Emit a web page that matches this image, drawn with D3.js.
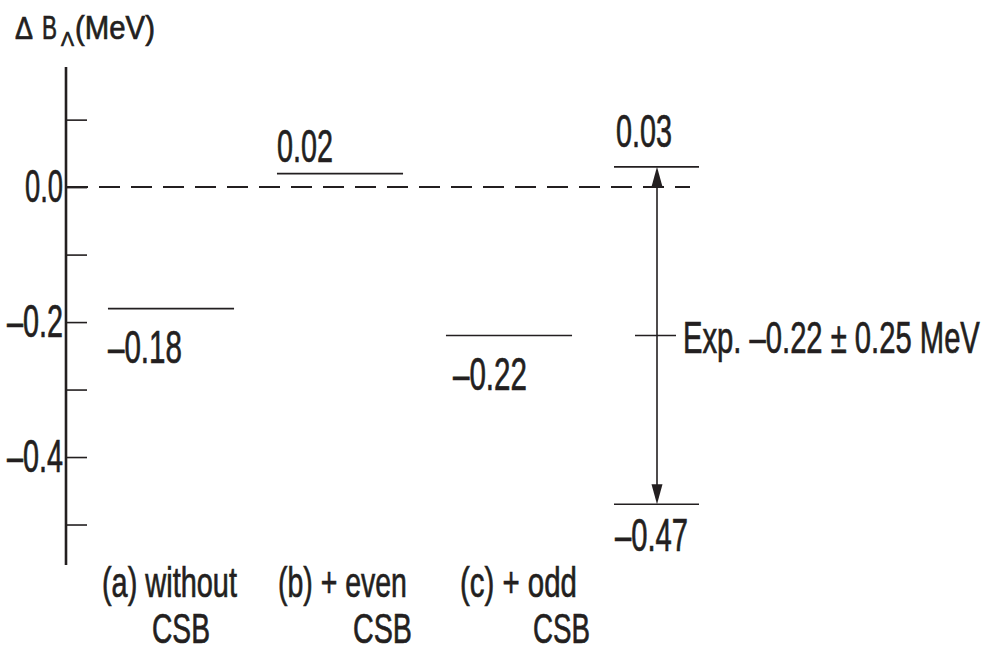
<!DOCTYPE html>
<html><head><meta charset="utf-8">
<script src="https://cdn.jsdelivr.net/npm/d3@7"></script>
<style>
html,body{margin:0;padding:0;background:#fff;}
svg{display:block;}
text{font-family:"Liberation Sans",Arial,Helvetica,sans-serif;fill:#231f20;stroke:#231f20;stroke-width:0.7px;}
</style></head>
<body>
<svg id="chart" width="992" height="668"></svg>
<script>
// ---- data ----
const categoryKeys = ["a", "b", "c"];
const categoryLine1 = ["(a) without", "(b) + even", "(c) + odd"];
const categoryLine2 = ["CSB", "CSB", "CSB"];
const levels = [-0.18, 0.02, -0.22];
const levelLabelSide = ["below", "above", "below"];
const expCentral = -0.22;
const expError = 0.25;
const expUpper = 0.03;
const expLower = -0.47;
const yTickValues = [0.1, 0.0, -0.1, -0.2, -0.3, -0.4, -0.5];
const yLabelValues = [0.0, -0.2, -0.4];
const yLabelTexts = ["0.0", "–0.2", "–0.4"];
const levelTexts = ["–0.18", "0.02", "–0.22"];
const expTexts = ["0.03", "–0.47"];
const expLabel = "Exp. –0.22 ± 0.25 MeV";

// ---- layout ----
const ink = "#231f20";
const svg = d3.select("#chart");
const y = d3.scaleLinear().domain([-0.56, 0.178]).range([565, 67]);
const x = d3.scaleBand().domain(categoryKeys).range([86.5, 593.5])
  .paddingInner(0.254).paddingOuter(0.127);
const axisX = 66;
const expX0 = 614, expX1 = 699, expMid = 657;

// text with horizontal condensing to a target width
function txt(xp, yp, s, size, targetW, anchor) {
  const t = svg.append("text").attr("x", 0).attr("y", 0)
    .attr("font-size", size).attr("text-anchor", anchor || "start").text(s);
  const w = t.node().getComputedTextLength();
  const sx = targetW ? targetW / w : 1;
  t.attr("transform", `translate(${xp},${yp}) scale(${sx},1)`);
  return t;
}

// y axis ticks (right side)
const axisG = svg.append("g").attr("transform", `translate(${axisX},0)`)
  .call(d3.axisRight(y).tickValues(yTickValues).tickSize(21).tickFormat(""));
axisG.select(".domain").remove();
axisG.selectAll(".tick line").attr("stroke", ink).attr("stroke-width", 1.6);
svg.append("line").attr("x1", axisX).attr("x2", axisX)
  .attr("y1", y.range()[1]).attr("y2", y.range()[0])
  .attr("stroke", ink).attr("stroke-width", 2.6);

// y tick labels
yLabelValues.forEach((v, i) => {
  const w = yLabelTexts[i].length === 3 ? 38 : 56;
  txt(63, y(v) + 15, yLabelTexts[i], 46, w, "end");
});

// axis title
txt(15, 39, "Δ", 31, 18);
txt(42, 39, "B", 33, 15);
txt(61, 46, "Λ", 21, 13);
txt(75, 39, "(MeV)", 33, 80);

// zero dashed line
svg.append("line").attr("x1", axisX + 1).attr("x2", 690)
  .attr("y1", y(0)).attr("y2", y(0))
  .attr("stroke", ink).attr("stroke-width", 2).attr("stroke-dasharray", "21,11");

// theory levels
categoryKeys.forEach((k, i) => {
  const x0 = x(k), x1 = x(k) + x.bandwidth();
  svg.append("line").attr("x1", x0).attr("x2", x1)
    .attr("y1", y(levels[i])).attr("y2", y(levels[i]))
    .attr("stroke", ink).attr("stroke-width", 1.6);
  const below = levelLabelSide[i] === "below";
  const lx = x0 + (i === 2 ? 7 : 0);
  const ly = below ? y(levels[i]) + 54 : y(levels[i]) - 12;
  txt(lx, ly, levelTexts[i], 46, levelTexts[i].length > 4 ? 74 : 56);
});

// experimental levels
[expUpper, expLower].forEach(v => {
  svg.append("line").attr("x1", expX0).attr("x2", expX1)
    .attr("y1", y(v)).attr("y2", y(v))
    .attr("stroke", ink).attr("stroke-width", 1.6);
});
txt(616, y(expUpper) - 20, expTexts[0], 46, 56);
txt(615, y(expLower) + 47, expTexts[1], 46, 73);

// arrow
const headL = 20, headW = 5.5;
svg.append("line").attr("x1", expMid).attr("x2", expMid)
  .attr("y1", y(expUpper) + headL - 2).attr("y2", y(expLower) - headL + 2)
  .attr("stroke", ink).attr("stroke-width", 1.6);
svg.append("path")
  .attr("d", `M${expMid},${y(expUpper)} L${expMid - headW},${y(expUpper) + headL} L${expMid + headW},${y(expUpper) + headL} Z`)
  .attr("fill", ink);
svg.append("path")
  .attr("d", `M${expMid},${y(expLower)} L${expMid - headW},${y(expLower) - headL} L${expMid + headW},${y(expLower) - headL} Z`)
  .attr("fill", ink);
// central value mark
svg.append("line").attr("x1", 635).attr("x2", 676)
  .attr("y1", y(expCentral)).attr("y2", y(expCentral))
  .attr("stroke", ink).attr("stroke-width", 1.6);
txt(683, y(expCentral) + 17, expLabel, 44, 297);

// category labels
const line1Offset = [-6, 1, 14];
const line1Len = [135, 129, 117];
const csbOffset = [44, 76, 87];
const csbLen = [58, 59, 57];
categoryKeys.forEach((k, i) => {
  txt(x(k) + line1Offset[i], 597, categoryLine1[i], 42, line1Len[i]);
  txt(x(k) + csbOffset[i], 643, categoryLine2[i], 42, csbLen[i]);
});
</script>
</body></html>
